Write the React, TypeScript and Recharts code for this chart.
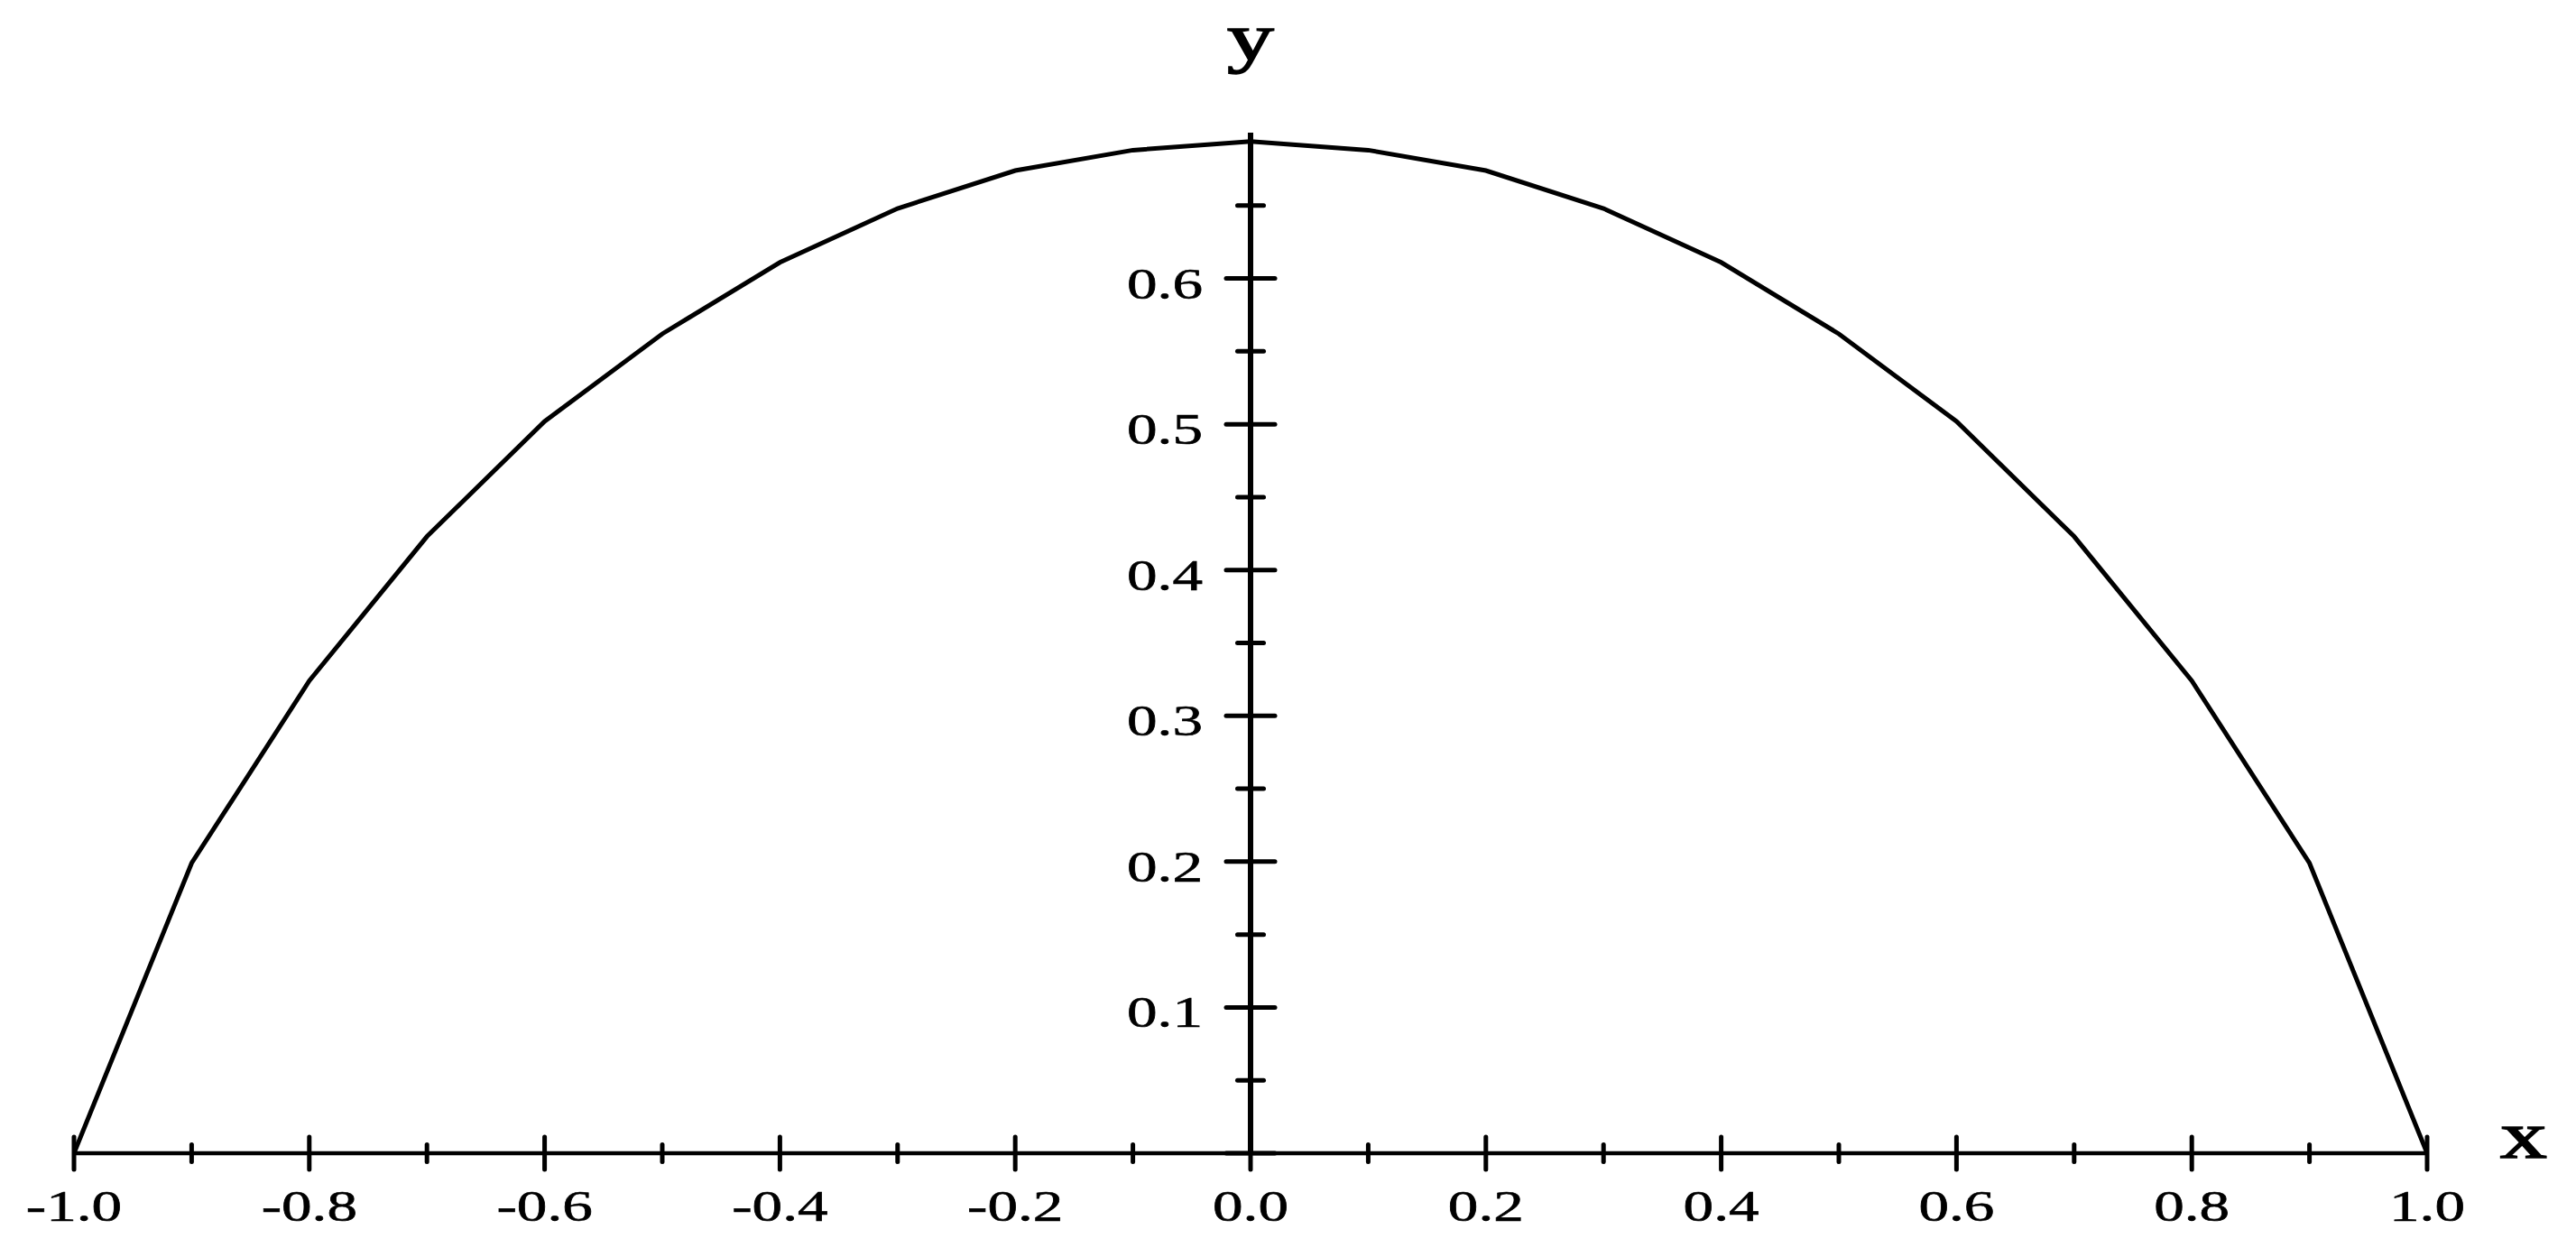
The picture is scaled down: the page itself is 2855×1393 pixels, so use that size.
import React from 'react';
import { LineChart, Line, XAxis, YAxis, ReferenceLine } from 'recharts';

const xValues = [-1.0, -0.9, -0.8, -0.7, -0.6, -0.5, -0.4, -0.3, -0.2, -0.1, 0.0, 0.1, 0.2, 0.3, 0.4, 0.5, 0.6, 0.7, 0.8, 0.9, 1.0];
const yValues = [0, 0.199, 0.324, 0.423, 0.502, 0.562, 0.611, 0.648, 0.674, 0.688, 0.694, 0.688, 0.674, 0.648, 0.611, 0.562, 0.502, 0.423, 0.324, 0.199, 0];

const xTicks = [-1.0, -0.9, -0.8, -0.7, -0.6, -0.5, -0.4, -0.3, -0.2, -0.1, 0.0, 0.1, 0.2, 0.3, 0.4, 0.5, 0.6, 0.7, 0.8, 0.9, 1.0];
const xTickLabels = ['-1.0', '', '-0.8', '', '-0.6', '', '-0.4', '', '-0.2', '', '0.0', '', '0.2', '', '0.4', '', '0.6', '', '0.8', '', '1.0'];

const yMajorTicks = [0, 0.1, 0.2, 0.3, 0.4, 0.5, 0.6];
const yMajorLabels = ['', '0.1', '0.2', '0.3', '0.4', '0.5', '0.6'];
const yMinorTicks = [0.05, 0.15, 0.25, 0.35, 0.45, 0.55, 0.65];

const xDomain = [-1, 1];
const yDomain = [0, 0.7];

const xAxisTitle = 'x';
const yAxisTitle = 'y';

const data = xValues.map((x, i) => ({ x, y: yValues[i] }));

const FONT = '"Liberation Serif", "Times New Roman", serif';
const STRETCH = 1.4;

function StretchText(props: any) {
  const { x, y, anchor, size, children, weight } = props;
  return (
    <text
      transform={`translate(${x},${y}) scale(${STRETCH},1)`}
      x={0}
      y={0}
      textAnchor={anchor}
      fontFamily={FONT}
      fontSize={size}
      fill="#000"
      stroke="#000"
      strokeWidth={weight ?? 0.6}
    >
      {children}
    </text>
  );
}

function XTick(props: any) {
  const { x, y, payload } = props;
  const i = xTicks.findIndex((t) => Math.abs(t - payload.value) < 1e-9);
  const label = i >= 0 ? xTickLabels[i] : '';
  const major = label !== '';
  const half = major ? 18 : 9.5;
  return (
    <g>
      <line x1={x} x2={x} y1={y - half} y2={y + half} stroke="#000" strokeWidth={5} strokeLinecap="round" />
      {major && (
        <StretchText x={x} y={y + 75} anchor="middle" size={48}>
          {label}
        </StretchText>
      )}
    </g>
  );
}

const yTickShape = (half: number, label: string) => (p: any) => {
  const cx = (p.x1 + p.x2) / 2;
  return (
    <g>
      <line x1={cx - half} x2={cx + half} y1={p.y1} y2={p.y2} stroke="#000" strokeWidth={5} strokeLinecap="round" />
      {label !== '' && (
        <StretchText x={cx - 53} y={p.y1 + 22} anchor="end" size={48}>
          {label}
        </StretchText>
      )}
    </g>
  );
};

const yAxisShape = (p: any) => {
  const top = Math.min(p.y1, p.y2);
  return (
    <g>
      <line x1={p.x1} x2={p.x2} y1={p.y1} y2={p.y2} stroke="#000" strokeWidth={6} />
      <StretchText x={p.x1} y={top - 81} anchor="middle" size={74} weight={1.6}>
        {yAxisTitle}
      </StretchText>
    </g>
  );
};

const xTitleShape = (p: any) => {
  const right = Math.max(p.x1, p.x2);
  return (
    <StretchText x={right + 107} y={p.y1 + 5} anchor="middle" size={74} weight={1.6}>
      {xAxisTitle}
    </StretchText>
  );
};

export default function App() {
  return (
    <div style={{ position: 'fixed', left: 0, top: 0, width: 2855, height: 1393, background: '#fff' }}>
      <LineChart width={2855} height={1393} data={data} margin={{ top: 147, right: 165, bottom: 0, left: 82 }}>
        <XAxis
          dataKey="x"
          type="number"
          domain={xDomain}
          ticks={xTicks}
          interval={0}
          height={115}
          tickSize={0}
          tickMargin={0}
          tickLine={false}
          axisLine={{ stroke: '#000', strokeWidth: 4.5 }}
          tick={<XTick />}
          allowDataOverflow
        />
        <YAxis type="number" domain={yDomain} hide width={0} allowDataOverflow />
        <ReferenceLine x={0} shape={yAxisShape} ifOverflow="visible" />
        {yMajorTicks.map((v, i) => (
          <ReferenceLine key={'ymaj' + i} y={v} shape={yTickShape(27, yMajorLabels[i])} ifOverflow="visible" />
        ))}
        {yMinorTicks.map((v, i) => (
          <ReferenceLine key={'ymin' + i} y={v} shape={yTickShape(14.5, '')} ifOverflow="visible" />
        ))}
        <ReferenceLine y={0} shape={xTitleShape} ifOverflow="visible" />
        <Line
          type="linear"
          dataKey="y"
          stroke="#000"
          strokeWidth={5}
          dot={false}
          activeDot={false}
          isAnimationActive={false}
        />
      </LineChart>
    </div>
  );
}
